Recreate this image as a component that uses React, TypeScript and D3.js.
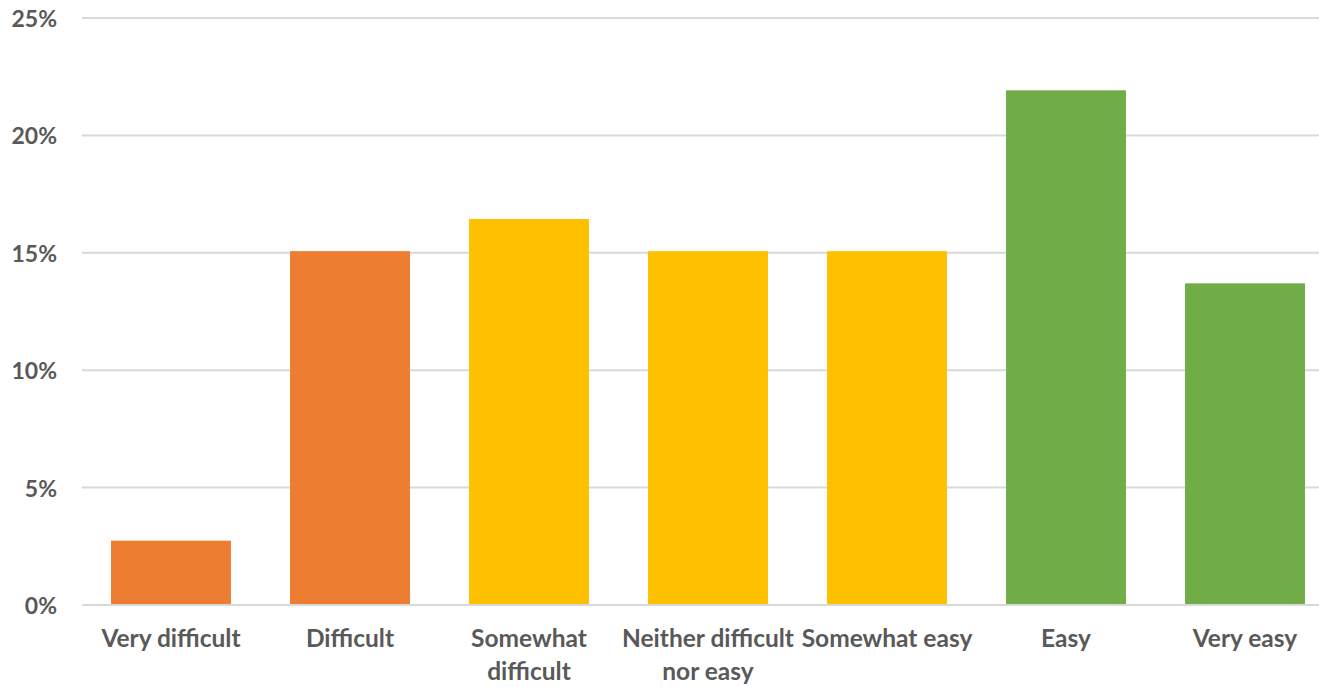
import React from "react";
import * as d3 from "d3";

const categories: string[][] = [
  ["Very difficult"],
  ["Difficult"],
  ["Somewhat", "difficult"],
  ["Neither difficult", "nor easy"],
  ["Somewhat easy"],
  ["Easy"],
  ["Very easy"],
];
const values: number[] = [2.74, 15.07, 16.44, 15.07, 15.07, 21.92, 13.7];
const barColors: string[] = ["#ED7D31", "#ED7D31", "#FFC000", "#FFC000", "#FFC000", "#70AD47", "#70AD47"];
const yTicks: number[] = [0, 5, 10, 15, 20, 25];

const W = 1319;
const H = 687;
const FONT = "Lato, 'Open Sans', sans-serif";

export default function App() {
  const x = d3
    .scaleBand<number>()
    .domain(categories.map((_, i) => i))
    .range([81.5, 1334.5])
    .paddingInner(0.33)
    .paddingOuter(0.165);
  const y = d3.scaleLinear().domain([0, 25]).range([605, 18]);

  return (
    <svg width={W} height={H} style={{ position: "absolute", left: 0, top: 0, background: "#fff" }}>
      {yTicks.map((t) => (
        <g key={t}>
          <line x1={82} x2={1319} y1={y(t)} y2={y(t)} stroke="#D9D9D9" strokeWidth={2} />
          <text
            x={57}
            y={y(t)}
            textAnchor="end"
            dominantBaseline="central"
            fontFamily={FONT}
            fontWeight="bold"
            fontSize={23}
            fill="#595959"
          >
            {t}%
          </text>
        </g>
      ))}
      {values.map((v, i) => (
        <rect
          key={i}
          x={x(i)}
          y={y(v)}
          width={x.bandwidth()}
          height={y(0) - y(v)}
          fill={barColors[i]}
        />
      ))}
      <line x1={82} x2={1319} y1={y(0)} y2={y(0)} stroke="#D9D9D9" strokeWidth={2} />
      {categories.map((lines, i) => (
        <text
          key={i}
          x={(x(i) as number) + x.bandwidth() / 2}
          y={647}
          textAnchor="middle"
          fontFamily={FONT}
          fontWeight="bold"
          fontSize={24.5}
          fill="#595959"
        >
          {lines.map((l, j) => (
            <tspan key={j} x={(x(i) as number) + x.bandwidth() / 2} dy={j === 0 ? 0 : 33}>
              {l}
            </tspan>
          ))}
        </text>
      ))}
    </svg>
  );
}
